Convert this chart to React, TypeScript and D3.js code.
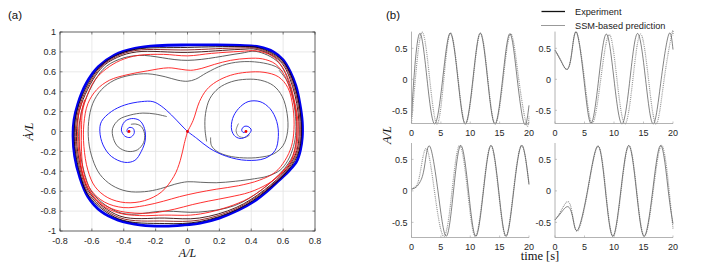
import React from 'react';
import * as d3 from 'd3';

type P = [number, number];

// ---------- (a) phase portrait: [A/L, dA/dt / L] ----------
const xTicksA = [-0.8, -0.6, -0.4, -0.2, 0, 0.2, 0.4, 0.6, 0.8];
const yTicksA = [-1, -0.8, -0.6, -0.4, -0.2, 0, 0.2, 0.4, 0.6, 0.8, 1];

const outerBoundary: P[] = [
  [-0.718, -0.05], [-0.712, 0.115], [-0.687, 0.283], [-0.635, 0.485], [-0.56, 0.65], [-0.457, 0.77],
  [-0.33, 0.836], [-0.185, 0.863], [0, 0.87], [0.16, 0.87], [0.33, 0.865], [0.45, 0.85], [0.54, 0.8],
  [0.6, 0.72], [0.645, 0.6], [0.68, 0.46], [0.705, 0.28], [0.72, 0.1], [0.72, -0.06], [0.708, -0.19],
  [0.685, -0.3], [0.64, -0.39], [0.575, -0.49], [0.5, -0.6], [0.42, -0.7], [0.32, -0.79], [0.2, -0.87],
  [0.08, -0.92], [-0.03, -0.94], [-0.143, -0.95], [-0.29, -0.94], [-0.436, -0.89], [-0.54, -0.806],
  [-0.625, -0.655], [-0.677, -0.454], [-0.708, -0.25],
];

const ring1: P[] = [
  [-0.711, -0.05], [-0.68, 0.28], [-0.554, 0.645], [-0.451, 0.762], [-0.327, 0.826], [0, 0.845],
  [0.33, 0.853], [0.446, 0.842], [0.594, 0.715], [0.673, 0.458], [0.713, 0.1], [0.701, -0.19],
  [0.634, -0.386], [0.494, -0.596], [0.315, -0.782], [0.078, -0.905], [-0.143, -0.925], [-0.432, -0.878],
  [-0.618, -0.65], [-0.67, -0.452],
];
const ring2: P[] = [
  [-0.704, -0.05], [-0.673, 0.277], [-0.548, 0.64], [-0.445, 0.754], [-0.323, 0.815], [0, 0.82],
  [0.33, 0.84], [0.442, 0.833], [0.588, 0.71], [0.666, 0.456], [0.706, 0.1], [0.694, -0.19],
  [0.628, -0.382], [0.488, -0.592], [0.31, -0.773], [0.076, -0.89], [-0.143, -0.9], [-0.428, -0.865],
  [-0.611, -0.645], [-0.663, -0.45],
];
const ring3: P[] = [
  [-0.697, -0.05], [-0.666, 0.274], [-0.542, 0.635], [-0.44, 0.745], [-0.318, 0.8], [0, 0.795],
  [0.33, 0.825], [0.438, 0.824], [0.582, 0.705], [0.659, 0.454], [0.699, 0.1], [0.687, -0.19],
  [0.622, -0.378], [0.482, -0.588], [0.305, -0.764], [0.074, -0.87], [-0.143, -0.87], [-0.424, -0.85],
  [-0.604, -0.64], [-0.656, -0.448],
];
const ring5: P[] = [
  [-0.683, -0.05], [-0.652, 0.268], [-0.53, 0.625], [-0.428, 0.725], [-0.3, 0.765], [0, 0.715],
  [0.33, 0.785], [0.43, 0.805], [0.57, 0.695], [0.645, 0.45], [0.685, 0.1], [0.673, -0.19],
  [0.61, -0.37], [0.47, -0.58], [0.295, -0.745], [0.07, -0.81], [-0.143, -0.8], [-0.416, -0.82],
  [-0.59, -0.63], [-0.642, -0.444],
];

// red branches leaving the saddle
const redUp: P[] = [
  [0, 0], [0.035, 0.11], [0.075, 0.3], [0.12, 0.42], [0.18, 0.5], [0.27, 0.565], [0.37, 0.595],
  [0.48, 0.595], [0.57, 0.55], [0.63, 0.44], [0.662, 0.24], [0.668, 0.02], [0.652, -0.15], [0.612, -0.29],
  [0.55, -0.41], [0.45, -0.49], [0.32, -0.545], [0.18, -0.58], [0.06, -0.615], [-0.05, -0.655],
  [-0.15, -0.7], [-0.27, -0.745], [-0.4, -0.765], [-0.52, -0.71], [-0.605, -0.59], [-0.65, -0.42],
  [-0.665, -0.2], [-0.665, 0.02], [-0.659, 0.2], [-0.63, 0.36], [-0.58, 0.52], [-0.51, 0.63],
  [-0.42, 0.715], [-0.31, 0.765], [-0.15, 0.775], [0, 0.76], [0.15, 0.785], [0.33, 0.805],
  [0.434, 0.81], [0.53, 0.76], [0.59, 0.66], [0.635, 0.52], [0.665, 0.35], [0.693, 0.1],
  [0.69, -0.1], [0.675, -0.22], [0.632, -0.34], [0.55, -0.47], [0.47, -0.58], [0.38, -0.675],
  [0.26, -0.755], [0.14, -0.81], [0.02, -0.84], [-0.143, -0.84], [-0.3, -0.845], [-0.43, -0.82],
  [-0.54, -0.735], [-0.61, -0.61], [-0.655, -0.44], [-0.683, -0.2], [-0.69, 0], [-0.68, 0.2], [-0.66, 0.3],
];
const redDown: P[] = [
  [0, 0], [-0.02, -0.12], [-0.045, -0.29], [-0.085, -0.45], [-0.165, -0.61], [-0.27, -0.695],
  [-0.39, -0.715], [-0.5, -0.665], [-0.58, -0.555], [-0.625, -0.39], [-0.65, -0.15], [-0.65, 0.08],
  [-0.625, 0.28], [-0.57, 0.42], [-0.49, 0.515], [-0.38, 0.57], [-0.25, 0.61], [-0.12, 0.64],
  [-0.04, 0.625], [0.02, 0.615], [0.09, 0.635], [0.17, 0.675], [0.27, 0.715], [0.38, 0.735],
  [0.47, 0.73], [0.55, 0.68], [0.61, 0.56], [0.65, 0.39], [0.68, 0.2], [0.686, 0], [0.674, -0.17],
  [0.645, -0.31], [0.585, -0.43], [0.5, -0.53], [0.39, -0.61], [0.26, -0.66], [0.13, -0.7],
  [0.03, -0.735], [-0.08, -0.78], [-0.2, -0.815], [-0.33, -0.82], [-0.45, -0.79], [-0.55, -0.71],
  [-0.62, -0.58], [-0.66, -0.42], [-0.675, -0.2], [-0.676, 0], [-0.668, 0.18], [-0.645, 0.32],
];

// black (experimental) trajectories
const blackOuter: P[] = [
  [0.6, 0.6], [0.55, 0.655], [0.45, 0.695], [0.33, 0.7], [0.22, 0.665], [0.12, 0.59], [0.05, 0.525],
  [0, 0.505], [-0.06, 0.515], [-0.14, 0.55], [-0.25, 0.58], [-0.36, 0.565], [-0.46, 0.515],
  [-0.54, 0.42], [-0.595, 0.28], [-0.62, 0.1], [-0.62, -0.1], [-0.595, -0.28], [-0.55, -0.43],
  [-0.475, -0.54], [-0.38, -0.6], [-0.27, -0.605], [-0.17, -0.575], [-0.08, -0.53], [0, -0.505],
  [0.08, -0.51], [0.18, -0.515], [0.3, -0.5], [0.42, -0.475], [0.5, -0.45], [0.58, -0.39],
  [0.63, -0.29], [0.665, -0.15], [0.68, 0], [0.675, 0.2], [0.655, 0.38], [0.62, 0.52], [0.575, 0.615],
];
const blackRightLobe: P[] = [
  [0.12, -0.1], [0.11, 0.02], [0.113, 0.18], [0.14, 0.33], [0.195, 0.435], [0.275, 0.5], [0.37, 0.525],
  [0.46, 0.515], [0.54, 0.46], [0.595, 0.35], [0.625, 0.18], [0.628, 0], [0.6, -0.14], [0.54, -0.225],
  [0.45, -0.26], [0.35, -0.265], [0.255, -0.245], [0.185, -0.2], [0.15, -0.14], [0.145, -0.06],
];
const blackRightCore: P[] = [
  [0.32, 0.08], [0.305, 0.01], [0.32, -0.045], [0.36, -0.06], [0.39, -0.035],
];
const blackLeftLobe: P[] = [
  [-0.13, 0.15], [-0.2, 0.175], [-0.28, 0.185], [-0.36, 0.165], [-0.43, 0.12], [-0.47, 0.03],
  [-0.465, -0.07], [-0.435, -0.155], [-0.375, -0.2], [-0.315, -0.185], [-0.275, -0.11], [-0.27, -0.02],
  [-0.29, 0.05], [-0.325, 0.075], [-0.355, 0.072],
];

// blue branches spiralling into the two foci
const blueRight: P[] = [
  [0, 0], [0.058, -0.069], [0.14, -0.17], [0.246, -0.25], [0.37, -0.29], [0.486, -0.27], [0.55, -0.19],
  [0.57, -0.05], [0.56, 0.1], [0.518, 0.23], [0.455, 0.3], [0.38, 0.3], [0.32, 0.23], [0.283, 0.13],
  [0.277, 0.015], [0.3, -0.05], [0.34, -0.07], [0.38, -0.035], [0.4, 0.015], [0.38, 0.05], [0.355, 0.05],
  [0.34, 0.015], [0.35, -0.01], [0.367, 0],
];
const blueLeft: P[] = [
  [0, 0], [-0.04, 0.065], [-0.1, 0.165], [-0.165, 0.256], [-0.217, 0.3], [-0.29, 0.3], [-0.394, 0.266],
  [-0.478, 0.2], [-0.54, 0.1], [-0.55, 0], [-0.53, -0.135], [-0.478, -0.25], [-0.394, -0.31],
  [-0.33, -0.29], [-0.29, -0.2], [-0.265, -0.086], [-0.27, 0.03], [-0.3, 0.11], [-0.35, 0.13],
  [-0.394, 0.1], [-0.415, 0.015], [-0.394, -0.045], [-0.36, -0.06], [-0.335, -0.02], [-0.34, 0.03],
  [-0.367, 0.04], [-0.38, 0.01], [-0.374, -0.01], [-0.367, 0],
];
const fixedPoints: P[] = [[-0.367, 0], [0, 0], [0.367, 0]];

// ---------- (b) time histories: [t (s), A/L] ----------
const tTicks = [0, 5, 10, 15, 20];
const aTicks = [-0.5, 0, 0.5];

const exp1: P[] = [
  [0, -0.62], [0.4, 0], [1.4, 0.74], [2.65, 0], [3.95, -0.72], [5.3, 0], [6.6, 0.745], [7.9, 0],
  [9.15, -0.72], [10.45, 0], [11.7, 0.745], [12.95, 0], [14.2, -0.72], [15.5, 0], [16.75, 0.735],
  [18, 0], [19.2, -0.72], [20, -0.42],
];
const pred1: P[] = [
  [0, -0.7], [0.65, 0], [1.8, 0.76], [3.1, 0], [4.35, -0.72], [5.5, 0], [6.65, 0.745], [7.95, 0],
  [9.2, -0.72], [10.5, 0], [11.75, 0.745], [13, 0], [14.25, -0.72], [15.6, 0], [16.9, 0.735],
  [18.25, 0], [19.55, -0.72], [20, -0.6],
];
const exp2: P[] = [
  [0, 0.47], [1, 0.3], [2, 0.16], [2.8, 0.4], [3.65, 0.76], [4.9, 0], [6.1, -0.71], [7.4, 0],
  [8.7, 0.73], [10, 0], [11.35, -0.72], [12.7, 0], [14, 0.74], [15.35, 0], [16.65, -0.72], [18, 0],
  [19.3, 0.73], [20, 0.48],
];
const pred2: P[] = [
  [0, 0.47], [1, 0.3], [2, 0.16], [2.8, 0.4], [3.65, 0.76], [5, 0], [6.3, -0.71], [7.75, 0],
  [9.2, 0.72], [10.5, 0], [11.85, -0.72], [13.2, 0], [14.5, 0.73], [15.85, 0], [17.15, -0.72],
  [18.5, 0], [19.8, 0.73], [20, 0.71],
];
const exp3: P[] = [
  [0, 0.03], [0.8, 0.06], [1.5, 0.15], [2.2, 0.38], [3.1, 0.71], [4.5, 0], [5.9, -0.72], [7.15, 0],
  [8.4, 0.72], [9.7, 0], [10.95, -0.72], [12.25, 0], [13.55, 0.72], [14.85, 0], [16.1, -0.72],
  [17.4, 0], [18.75, 0.72], [20, 0.1],
];
const pred3: P[] = [
  [0, 0.03], [0.8, 0.08], [1.5, 0.3], [2.55, 0.67], [3.9, 0], [5.5, -0.72], [6.9, 0], [8.2, 0.72],
  [9.55, 0], [10.85, -0.72], [12.2, 0], [13.5, 0.72], [14.8, 0], [16.05, -0.72], [17.35, 0],
  [18.7, 0.72], [20, 0.12],
];
const exp4: P[] = [
  [0, -0.46], [1, -0.35], [2.15, -0.25], [3, -0.42], [3.85, -0.62], [5.5, 0], [7.25, 0.71],
  [8.55, 0], [9.8, -0.72], [11.15, 0], [12.5, 0.72], [13.8, 0], [15.1, -0.72], [16.55, 0],
  [17.95, 0.72], [19.2, 0], [20, -0.52],
];
const pred4: P[] = [
  [0, -0.46], [1, -0.32], [2.2, -0.17], [3, -0.4], [3.9, -0.63], [5.55, 0], [7.3, 0.71], [8.6, 0],
  [9.85, -0.72], [11.2, 0], [12.55, 0.72], [13.85, 0], [15.15, -0.72], [16.65, 0], [18.1, 0.72],
  [19.35, 0], [20, -0.6],
];

const sans = '"Liberation Sans", Arial, Helvetica, sans-serif';
const serif = '"Liberation Serif", "DejaVu Serif", serif';

const panels = [
  { exp: exp1, pred: pred1, xr: [411.5, 529], yd: [-0.713, 0.77], yr: [123.5, 31.6] },
  { exp: exp2, pred: pred2, xr: [555, 673], yd: [-0.713, 0.77], yr: [123.5, 31.6] },
  { exp: exp3, pred: pred3, xr: [411.5, 529], yd: [-0.74, 0.76], yr: [237.5, 143] },
  { exp: exp4, pred: pred4, xr: [555, 673], yd: [-0.74, 0.76], yr: [237.5, 143] },
];

const fmt = (v: number) => (v === 0 ? '0' : String(v));

export default function App() {
  const x = d3.scaleLinear().domain([-0.8, 0.8]).range([60, 315]);
  const y = d3.scaleLinear().domain([-1, 1]).range([231, 32]);
  const open = d3.line<P>().x(d => x(d[0])).y(d => y(d[1])).curve(d3.curveCatmullRom.alpha(0.5));
  const closed = d3.line<P>().x(d => x(d[0])).y(d => y(d[1])).curve(d3.curveCatmullRomClosed.alpha(0.5));

  const rings = [
    { d: ring5, c: '#4a4a4a' },
    { d: ring3, c: '#3a0808' },
    { d: ring2, c: '#8a1414' },
    { d: ring1, c: '#1e0606' },
  ];

  return (
    <svg width={706} height={266} style={{ position: 'absolute', left: 0, top: 0, background: '#fff' }}>
      {/* ---------- panel (a) ---------- */}
      <text x={8} y={19} fontFamily={sans} fontSize={11.5} fill="#111">(a)</text>
      <rect x={60} y={32} width={255} height={199} fill="#fff" />
      {xTicksA.map(t => (
        <line key={'gx' + t} x1={x(t)} x2={x(t)} y1={32} y2={231} stroke="#e3e3e3" strokeWidth={0.8} />
      ))}
      {yTicksA.map(t => (
        <line key={'gy' + t} x1={60} x2={315} y1={y(t)} y2={y(t)} stroke="#e3e3e3" strokeWidth={0.8} />
      ))}

      <path d={closed(outerBoundary) || ''} fill="none" stroke="#0000ee" strokeWidth={2.8} />
      {rings.map((r, i) => (
        <path key={'r' + i} d={closed(r.d) || ''} fill="none" stroke={r.c} strokeWidth={0.9} />
      ))}
      <path d={open(blackOuter) || ''} fill="none" stroke="#555" strokeWidth={0.9} />
      <path d={open(blackRightLobe) || ''} fill="none" stroke="#555" strokeWidth={0.9} />
      <path d={open(blackRightCore) || ''} fill="none" stroke="#666" strokeWidth={0.8} />
      <path d={open(blackLeftLobe) || ''} fill="none" stroke="#555" strokeWidth={0.9} />
      <path d={open(redDown) || ''} fill="none" stroke="#ff1a1a" strokeWidth={0.9} />
      <path d={open(redUp) || ''} fill="none" stroke="#ff1a1a" strokeWidth={0.9} />
      <path d={open(blueLeft) || ''} fill="none" stroke="#2424ff" strokeWidth={1} />
      <path d={open(blueRight) || ''} fill="none" stroke="#2424ff" strokeWidth={1} />
      {fixedPoints.map((p, i) => (
        <circle key={'fp' + i} cx={x(p[0])} cy={y(p[1])} r={1.4} fill="#e00" />
      ))}

      <rect x={60} y={32} width={255} height={199} fill="none" stroke="#333" strokeWidth={0.7} />
      {xTicksA.map(t => (
        <g key={'tx' + t}>
          <line x1={x(t)} x2={x(t)} y1={231} y2={228.5} stroke="#333" strokeWidth={0.6} />
          <line x1={x(t)} x2={x(t)} y1={32} y2={34.5} stroke="#333" strokeWidth={0.6} />
          <text x={x(t)} y={243.5} textAnchor="middle" fontFamily={sans} fontSize={9} fill="#262626">{fmt(t)}</text>
        </g>
      ))}
      {yTicksA.map(t => (
        <g key={'ty' + t}>
          <line x1={60} x2={62.5} y1={y(t)} y2={y(t)} stroke="#333" strokeWidth={0.6} />
          <line x1={315} x2={312.5} y1={y(t)} y2={y(t)} stroke="#333" strokeWidth={0.6} />
          <text x={56} y={y(t) + 3.2} textAnchor="end" fontFamily={sans} fontSize={9} fill="#262626">{fmt(t)}</text>
        </g>
      ))}
      <text x={187.5} y={256.5} textAnchor="middle" fontFamily={serif} fontStyle="italic" fontSize={12} fill="#111">A/L</text>
      <text transform="translate(33,131.5) rotate(-90)" textAnchor="middle" fontFamily={serif} fontStyle="italic" fontSize={12.5} fill="#111">Ȧ/L</text>

      {/* ---------- panel (b) ---------- */}
      <text x={386} y={19} fontFamily={sans} fontSize={11.5} fill="#111">(b)</text>
      <line x1={541.5} x2={565} y1={11.5} y2={11.5} stroke="#111" strokeWidth={1.3} />
      <text x={575} y={14.5} fontFamily={sans} fontSize={9.2} fill="#222">Experiment</text>
      <line x1={541.5} x2={565} y1={25.5} y2={25.5} stroke="#333" strokeWidth={1.2} strokeDasharray="1,1" />
      <text x={575} y={28.7} fontFamily={sans} fontSize={9.2} fill="#222">SSM-based prediction</text>

      {panels.map((p, i) => {
        const px = d3.scaleLinear().domain([0, 20]).range(p.xr);
        const py = d3.scaleLinear().domain(p.yd).range(p.yr);
        const ln = d3.line<P>().x(d => px(d[0])).y(d => py(d[1])).curve(d3.curveNatural);
        const [x0, x1] = p.xr;
        const [yb, yt] = p.yr;
        return (
          <g key={'p' + i}>
            <path d={ln(p.pred) || ''} fill="none" stroke="#9a9a9a" strokeWidth={1.2} strokeDasharray="1,0.9" />
            <path d={ln(p.exp) || ''} fill="none" stroke="#4d4d4d" strokeWidth={0.7} />
            <line x1={x0} x2={x0} y1={yt} y2={yb} stroke="#a0a0a0" strokeWidth={0.8} />
            <line x1={x0} x2={x1} y1={yb} y2={yb} stroke="#a0a0a0" strokeWidth={0.8} />
            {tTicks.map(t => (
              <g key={'t' + t}>
                <line x1={px(t)} x2={px(t)} y1={yb} y2={yb - 2} stroke="#a0a0a0" strokeWidth={0.6} />
                <text x={px(t)} y={yb + 12.5} textAnchor="middle" fontFamily={sans} fontSize={9} fill="#262626">{t}</text>
              </g>
            ))}
            {aTicks.map(t => (
              <g key={'a' + t}>
                <line x1={x0} x2={x0 + 2} y1={py(t)} y2={py(t)} stroke="#a0a0a0" strokeWidth={0.6} />
                <text x={x0 - 4} y={py(t) + 3.2} textAnchor="end" fontFamily={sans} fontSize={9} fill="#262626">{t}</text>
              </g>
            ))}
          </g>
        );
      })}
      <text transform="translate(391,135) rotate(-90)" textAnchor="middle" fontFamily={serif} fontStyle="italic" fontSize={12.5} fill="#111">A/L</text>
      <text x={540} y={260} textAnchor="middle" fontFamily={serif} fontSize={12.5} fill="#111">time [s]</text>
    </svg>
  );
}
